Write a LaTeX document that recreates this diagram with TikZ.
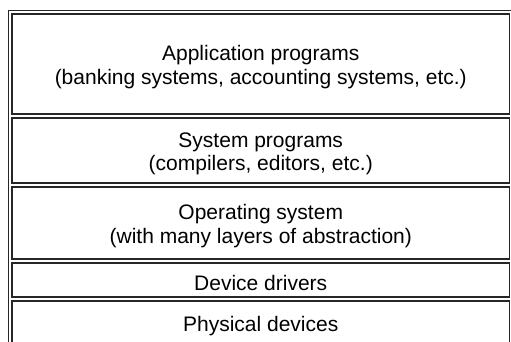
\documentclass[tikz,border=0pt]{standalone}
\usepackage{fontspec}
\setmainfont{Liberation Sans}
\usepackage{tikz}
\usetikzlibrary{positioning,fit}

\newcommand{\tallstrut}{\rule{0pt}{21pt}}

\begin{document}
\begin{tikzpicture}[x=1pt, y=1pt, node distance=4pt,
    layer/.style={rectangle, draw=black!85, line width=1.2pt, outer sep=0pt, minimum width=497.5pt, align=center, font=\fontsize{21}{23.5}\selectfont}]
    \useasboundingbox (0,0) rectangle (511,-341);
    \clip (0,0) rectangle (511,-341);

    \node[layer, minimum height=100pt, anchor=north west] (apps) at (12,-14) {\tallstrut Application programs\\(banking systems, accounting systems, etc.)};
    \node[layer, minimum height=65pt, below=of apps] (sysprog) {\tallstrut System programs\\(compilers, editors, etc.)};
    \node[layer, minimum height=72pt, below=of sysprog] (os) {\tallstrut Operating system\\(with many layers of abstraction)};
    \node[layer, minimum height=34pt, below=of os] (drivers) {\tallstrut Device drivers};
    \node[layer, minimum height=44pt, below=of drivers] (devices) {\tallstrut Physical devices};

    \node[draw=black!85, line width=1.2pt, inner sep=3.8pt, outer sep=0pt, fit=(apps)(devices)] (frame) {};
\end{tikzpicture}
\end{document}
